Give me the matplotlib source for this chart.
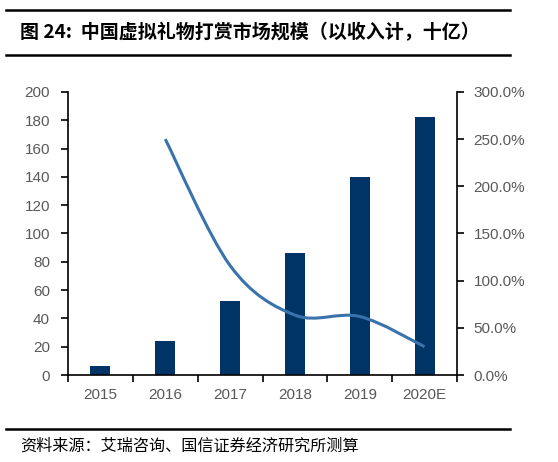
import numpy as np
import matplotlib.pyplot as plt
from matplotlib.path import Path
from matplotlib.patches import PathPatch
from matplotlib.lines import Line2D
from matplotlib.ticker import FuncFormatter

plt.rcParams['font.family'] = ['Liberation Sans', 'Noto Sans CJK SC', 'DejaVu Sans']

# data
years = ['2015', '2016', '2017', '2018', '2019', '2020E']
market_size = [6.6, 24.2, 52.5, 86.2, 139.7, 182.3]   # 十亿
growth_years = ['2016', '2017', '2018', '2019', '2020E']
growth_pct = [250.0, 116.0, 63.5, 62.0, 30.0]           # %

bar_color = '#003366'
line_color = '#3A73AC'
tick_color = '#595959'
tick_size = 11

fig = plt.figure(figsize=(5.58, 4.62), dpi=100)
ax = fig.add_axes([0.1219, 0.1883, 0.6971, 0.6126])
ax2 = ax.twinx()

x = np.arange(len(years))
ax.bar(x, market_size, width=0.31, color=bar_color, zorder=2)

ax.set_xlim(-0.5, len(years) - 0.5)
ax.set_ylim(0, 200)
ax.set_yticks(range(0, 201, 20))
ax.set_xticks(x)
ax.set_xticklabels(years)
ax.set_xticks(np.arange(-0.5, len(years)), minor=True)
ax.tick_params(axis='x', which='major', length=0, pad=9, labelsize=tick_size, labelcolor=tick_color)
ax.tick_params(axis='x', which='minor', length=5, width=1.2, direction='out')
ax.tick_params(axis='y', length=5, width=1.2, direction='out', labelsize=tick_size,
               labelcolor=tick_color, pad=8)

ax2.set_ylim(0, 300)
ax2.set_yticks(range(0, 301, 50))
ax2.yaxis.set_major_formatter(FuncFormatter(lambda v, p: f'{v:.1f}%'))
ax2.tick_params(axis='y', length=5, width=1.2, direction='out', labelsize=tick_size,
                labelcolor=tick_color, pad=7)

for a in (ax, ax2):
    a.spines['top'].set_visible(False)
    for s in ('left', 'right', 'bottom'):
        a.spines[s].set_linewidth(1.2)
ax.spines['right'].set_visible(False)
ax2.spines['left'].set_visible(False)
ax2.spines['bottom'].set_visible(False)

# smoothed growth line (Bezier through the points, like Excel's smoothing)
gx = np.array([years.index(y) for y in growth_years], dtype=float)
pts = np.column_stack([gx, growth_pct])
verts = [tuple(pts[0])]
codes = [Path.MOVETO]
n = len(pts)
for i in range(n - 1):
    p0 = pts[i - 1] if i > 0 else pts[i]
    p1 = pts[i]
    p2 = pts[i + 1]
    p3 = pts[i + 2] if i + 2 < n else pts[i + 1]
    c1 = p1 + (p2 - p0) / 6
    c2 = p2 - (p3 - p1) / 6
    verts += [tuple(c1), tuple(c2), tuple(p2)]
    codes += [Path.CURVE4] * 3
ax2.add_patch(PathPatch(Path(verts, codes), facecolor='none', edgecolor=line_color,
                        linewidth=2.2, capstyle='butt', zorder=3))

# title, rules and source
for yy in (1 - 10 / 462, 1 - 55 / 462, 1 - 429 / 462):
    fig.add_artist(Line2D([6 / 558, 510 / 558], [yy, yy], color='black', linewidth=1.8))

fig.text(20 / 558, 1 - 33 / 462, '图 24:  中国虚拟礼物打赏市场规模（以收入计，十亿）',
         family=['Noto Sans CJK SC', 'DejaVu Sans'], fontsize=13.7, fontweight='bold',
         va='center', ha='left')
fig.text(20 / 558, 1 - 446 / 462, '资料来源：艾瑞咨询、国信证券经济研究所测算',
         family=['Noto Sans CJK SC', 'DejaVu Sans'], fontsize=11.6, va='center', ha='left')

fig.savefig('out.png', dpi=100)
